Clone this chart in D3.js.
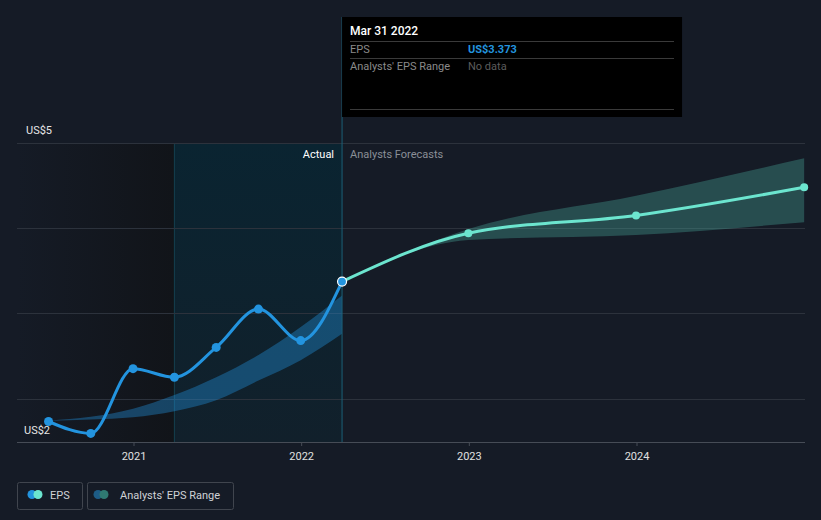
<!DOCTYPE html>
<html><head><meta charset="utf-8">
<script src="https://cdn.jsdelivr.net/npm/d3@7/dist/d3.min.js"></script>
<style>
html,body{margin:0;padding:0;background:#151b26;}
svg{display:block;font-family:Roboto,"Open Sans",sans-serif;}
</style></head><body>
<svg id="c" width="821" height="520"></svg>
<script>
// ---- data ----
const epsDates = ["2020-06-30","2020-09-30","2020-12-31","2021-03-31","2021-06-30","2021-09-30","2021-12-31","2022-03-31"];
const epsValues = [1.73,1.59,2.35,2.25,2.60,3.05,2.68,3.373];
const fcDates = ["2022-03-31","2022-12-31","2023-12-31","2024-12-31"];
const fcValues = [3.373,3.94,4.15,4.48];
const fcLow = [3.373,3.86,3.92,4.07];
const fcHigh = [3.373,3.99,4.38,4.82];
const pastRangeDates = ["2020-06-30","2020-12-31","2021-03-31","2021-06-30","2021-09-30","2021-12-31","2022-03-31"];
const pastLow = [1.74,1.78,1.85,1.98,2.21,2.45,2.76];
const pastHigh = [1.74,1.88,2.04,2.25,2.51,2.84,3.21];
const yTicks = [2,3,4,5];
const yLabels = ["US$5","US$2"];
const xTickYears = [2021,2022,2023,2024];

const P = d3.timeParse("%Y-%m-%d");
const svg = d3.select("#c");
const L = 17, R = 805, T = 143, B = 442;
const x = d3.scaleTime().domain([new Date(2021,0,1), new Date(2024,0,1)]).range([133.5,636.5]);
const y = d3.scaleLinear().domain([2,5]).range([398.5,143]);
const nowX = x(P("2022-03-31"));
const yearAgoX = x(P("2021-03-31"));

const defs = svg.append("defs");
const g1 = defs.append("linearGradient").attr("id","past").attr("x1",0).attr("x2",1).attr("y1",0).attr("y2",0);
g1.append("stop").attr("offset","0%").attr("stop-color","#151b26");
g1.append("stop").attr("offset","100%").attr("stop-color","#111419");
const g2 = defs.append("linearGradient").attr("id","hl").attr("x1",0).attr("x2",0).attr("y1",0).attr("y2",1);
g2.append("stop").attr("offset","0%").attr("stop-color","#0a2431");
g2.append("stop").attr("offset","100%").attr("stop-color","#11202b");
defs.append("clipPath").attr("id","clip").append("rect").attr("x",L).attr("y",0).attr("width",R-L).attr("height",B);

// past regions
svg.append("rect").attr("x",L).attr("y",T).attr("width",yearAgoX-L).attr("height",B-T).attr("fill","url(#past)");
svg.append("rect").attr("x",yearAgoX).attr("y",T).attr("width",nowX-yearAgoX).attr("height",B-T).attr("fill","url(#hl)");
svg.append("line").attr("x1",yearAgoX).attr("x2",yearAgoX).attr("y1",T).attr("y2",B).attr("stroke","#14404f").attr("stroke-width",1);

// gridlines
svg.selectAll("line.grid").data(yTicks).join("line").attr("class","grid")
  .attr("x1",L).attr("x2",R).attr("y1",d=>Math.round(y(d))+0.5).attr("y2",d=>Math.round(y(d))+0.5)
  .attr("stroke","#2c323c").attr("stroke-width",1);

const plot = svg.append("g").attr("clip-path","url(#clip)");

// past analysts range
const pastRange = pastRangeDates.map((d,i)=>({d:P(d),lo:pastLow[i],hi:pastHigh[i]}));
plot.append("path").datum(pastRange)
  .attr("d",d3.area().curve(d3.curveMonotoneX).x(d=>x(d.d)).y0(d=>y(d.lo)).y1(d=>y(d.hi)))
  .attr("fill","#2394df").attr("fill-opacity",0.38);

// forecast range
const fc = fcDates.map((d,i)=>({d:P(d),v:fcValues[i],lo:fcLow[i],hi:fcHigh[i]}));
plot.append("path").datum(fc)
  .attr("d",d3.area().curve(d3.curveMonotoneX).x(d=>x(d.d)).y0(d=>y(d.lo)).y1(d=>y(d.hi)))
  .attr("fill","#4fb8a8").attr("fill-opacity",0.32);

// axis
svg.append("line").attr("x1",L).attr("x2",R).attr("y1",B+0.5).attr("y2",B+0.5).attr("stroke","#464c56");
const ax = svg.append("g").attr("transform",`translate(0,${B})`)
  .call(d3.axisBottom(x).tickValues(xTickYears.map(yr=>new Date(yr,0,1))).tickFormat(d3.timeFormat("%Y")).tickSize(4).tickPadding(6));
ax.select(".domain").remove();
ax.selectAll("line").attr("stroke","#464c56");
ax.selectAll("text").attr("fill","#e0e0e0").attr("font-size",11).attr("font-family","Roboto,sans-serif");

// y labels
svg.append("text").attr("x",26).attr("y",134).attr("fill","#e6e6e6").attr("font-size",11).text(yLabels[0]);
svg.append("text").attr("x",24).attr("y",434).attr("fill","#e6e6e6").attr("font-size",11).text(yLabels[1]);

// EPS lines
const eps = epsDates.map((d,i)=>({d:P(d),v:epsValues[i]}));
const line = d3.line().curve(d3.curveMonotoneX).x(d=>x(d.d)).y(d=>y(d.v));
plot.append("path").datum(fc).attr("d",line).attr("fill","none").attr("stroke","#6ce5cf").attr("stroke-width",3);
plot.append("path").datum(eps).attr("d",line).attr("fill","none").attr("stroke","#2394df").attr("stroke-width",3);

// now line
svg.append("line").attr("x1",nowX).attr("x2",nowX).attr("y1",17).attr("y2",B).attr("stroke","#1b5f77").attr("stroke-width",1);

// points
svg.selectAll("circle.fc").data(fc.slice(1)).join("circle").attr("class","fc")
  .attr("cx",d=>Math.min(x(d.d),R)).attr("cy",d=>y(d.v)).attr("r",4).attr("fill","#6ce5cf");
svg.selectAll("circle.eps").data(eps).join("circle").attr("class","eps")
  .attr("cx",d=>x(d.d)).attr("cy",d=>y(d.v)).attr("r",4.5)
  .attr("fill","#2394df")
  .attr("stroke",(d,i)=>i===eps.length-1?"#ffffff":"none").attr("stroke-width",1.2);

// labels Actual / Forecasts
svg.append("text").attr("x",nowX-8).attr("y",158).attr("text-anchor","end").attr("fill","#ffffff").attr("font-size",11).text("Actual");
svg.append("text").attr("x",nowX+8).attr("y",158).attr("fill","#8a8f97").attr("font-size",11).text("Analysts Forecasts");

// tooltip
const tt = svg.append("g");
tt.append("rect").attr("x",nowX).attr("y",17).attr("width",340).attr("height",100).attr("fill","#000000");
tt.append("text").attr("x",350).attr("y",35).attr("fill","#ffffff").attr("font-size",12).attr("font-weight",500).text("Mar 31 2022");
[41,58,109].forEach(yy=>tt.append("line").attr("x1",350).attr("x2",674).attr("y1",yy+0.5).attr("y2",yy+0.5).attr("stroke","#3a3a3a"));
tt.append("text").attr("x",350).attr("y",53).attr("fill","#8a8a8a").attr("font-size",11).text("EPS");
tt.append("text").attr("x",468).attr("y",53).attr("fill","#2394df").attr("font-size",11).attr("font-weight",700).text("US$"+epsValues[epsValues.length-1].toFixed(3));
tt.append("text").attr("x",350).attr("y",70).attr("fill","#8a8a8a").attr("font-size",11).text("Analysts' EPS Range");
tt.append("text").attr("x",468).attr("y",70).attr("fill","#5c5c5c").attr("font-size",11).text("No data");

// legend
const lg = svg.append("g");
lg.append("rect").attr("x",17.5).attr("y",482.5).attr("width",65).attr("height",27).attr("rx",2).attr("fill","none").attr("stroke","#40454e");
lg.append("circle").attr("cx",32).attr("cy",494.5).attr("r",4.5).attr("fill","#2394df");
lg.append("circle").attr("cx",38).attr("cy",494.5).attr("r",4.5).attr("fill","#6ce5cf");
lg.append("text").attr("x",50).attr("y",498.5).attr("fill","#cfd2d6").attr("font-size",11).text("EPS");
lg.append("rect").attr("x",87.5).attr("y",482.5).attr("width",146).attr("height",27).attr("rx",2).attr("fill","none").attr("stroke","#40454e");
lg.append("circle").attr("cx",98).attr("cy",494.5).attr("r",4.5).attr("fill","#1d5c86");
lg.append("circle").attr("cx",104).attr("cy",494.5).attr("r",4.5).attr("fill","#2f7a72");
lg.append("text").attr("x",120).attr("y",498.5).attr("fill","#cfd2d6").attr("font-size",11).text("Analysts' EPS Range");
</script>
</body></html>
